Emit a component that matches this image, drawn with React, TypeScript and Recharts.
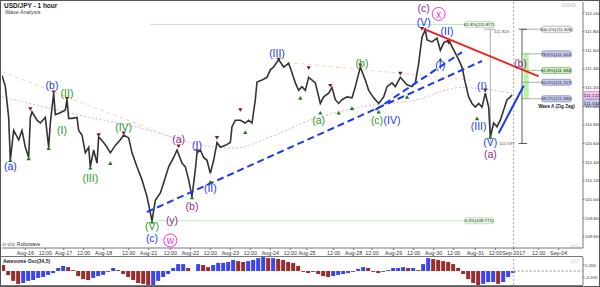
import React from "react";
import {
  ComposedChart, Line, Bar, Cell, Scatter, XAxis, YAxis,
  ReferenceLine, ReferenceArea, ReferenceDot,
} from "recharts";

const FONT = "'Liberation Sans', Arial, sans-serif";

// hour bar index (0 = left edge of the chart) and the price read there
const pricePath: [number, number][] = [
  [0, 111.33], [2, 111.21], [4, 110.88], [5, 110.42], [7, 110.74], [10, 110.64], [12, 110.74], [14, 110.56],
  [16, 110.45], [17, 110.88], [18, 110.94], [21, 110.85], [23, 110.82], [26, 110.88], [28, 110.56], [29, 110.82],
  [31, 111.14], [32, 110.91], [35, 110.93], [38, 110.96], [39, 111.07], [40, 110.87], [42, 110.87], [45, 110.88],
  [46, 110.74], [48, 110.69], [50, 110.5], [52, 110.56], [53, 110.35], [55, 110.53], [57, 110.39], [58, 110.67],
  [61, 110.61], [63, 110.56], [65, 110.5], [68, 110.58], [71, 110.64], [73, 110.69], [76, 110.66], [78, 110.5],
  [81, 110.35], [84, 110.21], [87, 110.03], [90, 109.77], [92, 109.99], [95, 110.07], [97, 110.18], [100, 110.35],
  [103, 110.45], [105, 110.53], [108, 110.39], [110, 110.35], [112, 110.21], [114, 110.03], [116, 110.32], [117, 110.5],
  [119, 110.53], [121, 110.45], [123, 110.42], [125, 110.28], [127, 110.42], [129, 110.61], [131, 110.56], [134, 110.58],
  [137, 110.61], [138, 110.78], [140, 110.85], [143, 110.85], [146, 110.82], [148, 110.85], [150, 110.82], [152, 111.07],
  [153, 111.26], [156, 111.28], [159, 111.31], [161, 111.39], [163, 111.42], [166, 111.5], [169, 111.42], [172, 111.46],
  [174, 111.36], [176, 111.25], [178, 111.17], [180, 111.21], [182, 111.17], [184, 111.31], [186, 111.28], [188, 111.25],
  [191, 111.03], [193, 111.1], [196, 111.14], [198, 111.2], [200, 111.07], [202, 111.03], [204, 111.07], [207, 111.1],
  [210, 111.09], [212, 111.21], [215, 111.42], [218, 111.28], [220, 111.17], [223, 111.09], [226, 111.03], [229, 111.1],
  [231, 111.21], [234, 111.25], [236, 111.21], [239, 111.31], [243, 111.23], [246, 111.21], [248, 111.25], [250, 111.46],
  [252, 111.74], [254, 111.82], [255, 111.71], [258, 111.69], [261, 111.73], [263, 111.6], [265, 111.68], [268, 111.71],
  [270, 111.64], [272, 111.57], [274, 111.5], [276, 111.42], [278, 111.25], [280, 111.1], [282, 111.03], [284, 110.99],
  [286, 111.03], [288, 110.99], [290, 111.14], [292, 110.99], [293, 110.67], [295, 110.82], [297, 110.78], [299, 110.85],
  [301, 110.96], [303, 111.07], [305, 111.1], [306, 111.12],
];

// slow moving average (pink dotted)
const slowMa: [number, number][] = [
  [0, 111.1], [45, 110.91], [95, 110.71], [113, 110.61], [139, 110.55], [161, 110.67],
  [185, 110.85], [215, 110.99], [249, 111.07], [275, 111.2], [306, 111.14],
];

// awesome oscillator, one value every 3 bars starting at bar 1
const aoStart = 1;
const aoStep = 3;
const aoValues = [
  0.2, -0.13, -0.33, -0.43, -0.4, -0.33, -0.3, -0.23, -0.2, -0.13,
  -0.07, 0.1, 0.17, 0.13, 0.03, -0.17, -0.27, -0.3, -0.23, -0.17,
  -0.13, -0.03, 0.1, 0.03, -0.1, -0.2, -0.3, -0.4, -0.43, -0.47,
  -0.47, -0.33, -0.2, -0.1, 0.1, 0.23, 0.23, 0.1, 0, 0.23,
  0.2, 0.13, 0.2, 0.27, 0.27, 0.3, 0.37, 0.33, 0.3, 0.33,
  0.37, 0.43, 0.47, 0.43, 0.43, 0.4, 0.37, 0.3, 0.27, 0.17,
  -0.03, -0.07, -0.03, -0.1, -0.17, -0.2, -0.17, -0.13, -0.1, -0.07,
  -0.03, 0.07, 0.13, 0.1, -0.03, -0.07, -0.03, 0.03, 0.1, 0.1,
  0.13, 0.1, 0.1, 0.03, 0.23, 0.43, 0.4, 0.37, 0.33, 0.3,
  0.23, 0.1, -0.1, -0.27, -0.4, -0.47, -0.43, -0.37, -0.37, -0.43,
  -0.37, -0.2, -0.07,
];

const timeTicks = [14, 26, 37, 49, 61, 76, 88, 101, 113, 125, 137, 149, 161, 173, 183, 199, 211, 222, 235, 247, 259, 271, 284, 296, 307, 322, 334];
const timeLabels = ["Aug-16", "12:00", "Aug-17", "12:00", "Aug-18", "12:00", "Aug-21", "12:00", "Aug-22", "12:00", "Aug-23", "12:00",
  "Aug-24", "12:00", "Aug-25", "12:00", "Aug-28", "12:00", "Aug-29", "12:00", "Aug-30", "12:00", "Aug-31", "12:00", "Sep-2017", "12:00", "Sep-04"];
const priceTicks = [109.6, 109.8, 110.0, 110.2, 110.4, 110.6, 110.8, 111.0, 111.2, 111.4, 111.6, 111.8, 112.0];

// elliott wave labels
const waveLabels = [
  {bar: 5, price: 110.35, text: "(a)", degree: "minuette"},
  {bar: 30, price: 111.22, text: "(b)", degree: "minuette"},
  {bar: 39, price: 111.14, text: "(II)", degree: "subminuette"},
  {bar: 36, price: 110.74, text: "(I)", degree: "subminuette"},
  {bar: 53, price: 110.23, text: "(III)", degree: "subminuette"},
  {bar: 73, price: 110.77, text: "(IV)", degree: "subminuette"},
  {bar: 90, price: 109.71, text: "(V)", degree: "subminuette"},
  {bar: 90, price: 109.58, text: "(c)", degree: "minuette"},
  {bar: 102, price: 109.77, text: "(y)", degree: "minute"},
  {bar: 101, price: 109.56, text: "w", degree: "minor"},
  {bar: 106, price: 110.64, text: "(a)", degree: "minute"},
  {bar: 117, price: 110.58, text: "(I)", degree: "minuette"},
  {bar: 114, price: 109.93, text: "(b)", degree: "minute"},
  {bar: 125, price: 110.12, text: "(II)", degree: "minuette"},
  {bar: 165, price: 111.57, text: "(III)", degree: "minuette"},
  {bar: 190, price: 110.85, text: "(a)", degree: "subminuette"},
  {bar: 216, price: 111.46, text: "(b)", degree: "subminuette"},
  {bar: 225, price: 110.85, text: "(c)", degree: "subminuette"},
  {bar: 234, price: 110.85, text: "(IV)", degree: "minuette"},
  {bar: 253, price: 112.05, text: "(c)", degree: "minute"},
  {bar: 262, price: 111.99, text: "x", degree: "minor"},
  {bar: 253, price: 111.9, text: "(V)", degree: "minuette"},
  {bar: 267, price: 111.8, text: "(II)", degree: "minuette"},
  {bar: 263, price: 111.44, text: "(I)", degree: "minuette"},
  {bar: 288, price: 111.21, text: "(I)", degree: "minuette"},
  {bar: 286, price: 110.78, text: "(III)", degree: "minuette"},
  {bar: 293, price: 110.61, text: "(V)", degree: "minuette"},
  {bar: 293, price: 110.48, text: "(a)", degree: "minute"},
  {bar: 311, price: 111.46, text: "(b)", degree: "minute"},
];

// fractal markers
const fractalLows: [number, number][] = [
  [5, 110.42], [16, 110.44], [28, 110.55], [53, 110.34], [65, 110.39], [90, 109.76], [114, 110.02], [125, 110.19],
  [146, 110.72], [179, 111.09], [191, 110.93], [202, 110.93], [210, 110.98], [226, 110.94], [243, 111.1], [263, 111.5],
  [285, 110.87], [293, 110.67],
];
const fractalHighs: [number, number][] = [
  [17, 110.97], [31, 111.15], [39, 111.08], [58, 110.69], [73, 110.71], [106, 110.57], [117, 110.52], [129, 110.66],
  [143, 110.96], [166, 111.5], [184, 111.41], [197, 111.22], [215, 111.44], [239, 111.35], [252, 111.83], [268, 111.68],
  [290, 111.17],
];

// trend lines [bar, price] -> [bar, price]
const blueDashed = [
  [[87, 109.865], [288, 111.485]],
  [[224, 110.96], [276, 111.58]],
];
const blueSolid = [[298, 110.71], [313, 111.22]];
const redLine = [[253, 111.83], [322, 111.32]];
const orangeDashed = [
  [[0, 111.37], [110, 110.61]],
  [[171, 111.47], [281, 111.28]],
];

// big retracement (from the Aug-21 low)
const bigFib = [{label: "61.8%", price: 111.877, from: 89}, {label: "0.0%", price: 109.771, from: 92}];
const bigFibEnd = 295;
// wave A retracement on the right
const waveAFib = [
  {label: "100.0%", price: 111.826},
  {label: "78.6%", price: 111.562},
  {label: "61.8%", price: 111.384},
  {label: "50.0%", price: 111.257},
  {label: "38.2%", price: 111.08},
];
const waveAHigh = 111.826;
const waveALow = 110.6;
const lastPrice = 111.122;
const askPrice = 111.034;
const currentBar = 307;

const degreeColor: Record<string, string> = {
  subminuette: "#1f9a1f",
  minuette: "#1b38f5",
  minute: "#8b2c8b",
  minor: "#ff2fd0",
};

const X_DOMAIN: [number, number] = [0, 348.6];

const WaveLabel = (props: any) => {
  const {cx, cy, payload} = props;
  const color = degreeColor[payload.degree];
  const circled = payload.degree === "minor";
  return (
    <g>
      {circled && <circle cx={cx} cy={cy} r={6.5} fill="#fff" stroke={color} strokeWidth={1}/>}
      <text x={cx} y={cy} dy={3.6} textAnchor="middle" fontSize={circled ? 10 : 10.5} fill={color} fontFamily={FONT}>
        {payload.text}
      </text>
    </g>
  );
};

const Tri = (up: boolean) => (props: any) => {
  const {cx, cy} = props;
  const d = up
    ? `M${cx - 2.2},${cy + 1.8} L${cx + 2.2},${cy + 1.8} L${cx},${cy - 1.8} Z`
    : `M${cx - 2.2},${cy - 1.8} L${cx + 2.2},${cy - 1.8} L${cx},${cy + 1.8} Z`;
  return <path d={d} fill={up ? "#1d7a1d" : "#7a1d1d"}/>;
};

const FibTag = ({cx, cy, text, tone, alignRight}: any) => {
  const w = 29;
  const h = 6;
  const x = alignRight ? cx - w : cx;
  const fills: Record<string, [string, string]> = {
    green: ["#c9f2c0", "#5aa04a"],
    blue: ["#c9cdf2", "#6670aa"],
    white: ["#ffffff", "#888888"],
    pale: ["#e8fbe8", "#9bd49b"],
  };
  const [fill, stroke] = fills[tone];
  return (
    <g>
      <rect x={x} y={cy - h / 2} width={w} height={h} rx={1.5} fill={fill} stroke={stroke} strokeWidth={0.6}/>
      <text x={x + w / 2} y={cy + 1.7} textAnchor="middle" fontSize={4.4} fill="#222" fontFamily={FONT}>{text}</text>
    </g>
  );
};

const PriceTag = ({cx, cy, text, fill, stroke}: any) => (
  <g>
    <rect x={cx + 1} y={cy - 3.5} width={15.5} height={7} rx={1.5} fill={fill} stroke={stroke} strokeWidth={0.6}/>
    <text x={cx + 8.7} y={cy + 1.7} textAnchor="middle" fontSize={4.4} fill="#222" fontFamily={FONT}>{text}</text>
  </g>
);

const seg = (s: number[][]) => [{x: s[0][0], y: s[0][1]}, {x: s[1][0], y: s[1][1]}] as any;

const axisTick = {fontSize: 4.4, fill: "#333", fontFamily: FONT};

const PriceChart = () => {
  const path = pricePath.map(([bar, price]) => ({bar, price}));
  const ma = slowMa.map(([bar, price]) => ({bar, price}));
  const lows = fractalLows.map(([bar, price]) => ({bar, price}));
  const highs = fractalHighs.map(([bar, price]) => ({bar, price}));
  return (
    <ComposedChart width={600} height={256} margin={{top: 2, right: 0, bottom: 0, left: 2}}>
      <XAxis type="number" dataKey="bar" domain={X_DOMAIN} allowDataOverflow ticks={timeTicks}
             tickFormatter={(v: number) => timeLabels[timeTicks.indexOf(v)] ?? ""}
             interval={0} height={8} tickSize={2} tickMargin={1}
             tick={{fontSize: 5.3, fill: "#333", fontFamily: FONT}} stroke="#777"/>
      <YAxis type="number" orientation="right" domain={[109.479, 112.118]} allowDataOverflow ticks={priceTicks}
             tickFormatter={(v: number) => v.toFixed(3)} width={17} tickSize={1.5} tickMargin={0.5}
             tick={axisTick} stroke="#777" interval={0}/>

      {bigFib.map((f) => (
        <ReferenceLine key={f.label} segment={seg([[f.from, f.price], [bigFibEnd, f.price]])} stroke="#b9efb4" strokeWidth={1}/>
      ))}
      {orangeDashed.map((s, i) => (
        <ReferenceLine key={"o" + i} segment={seg(s)} stroke="#f8d2b4" strokeDasharray="4 3" strokeWidth={1}/>
      ))}
      <ReferenceLine x={currentBar} stroke="#aaa" strokeDasharray="2 2"/>

      <ReferenceArea x1={313} x2={316} y1={waveAFib[4].price} y2={waveAFib[1].price} fill="#b6f2a2" fillOpacity={1} stroke="none"/>
      {waveAFib.map((f) => (
        <ReferenceLine key={f.label} segment={seg([[312, f.price], [324, f.price]])}
                       stroke={f.label === "61.8%" ? "#7cc46c" : "#9a9a9a"} strokeWidth={0.8}/>
      ))}
      <ReferenceLine segment={seg([[293, waveAHigh], [293, 110.62]])} stroke="#999" strokeWidth={0.8}/>
      <ReferenceLine segment={seg([[289, waveAHigh], [296, waveAHigh]])} stroke="#999" strokeWidth={0.8}/>
      <ReferenceLine segment={seg([[312, waveAHigh], [312, waveALow]])} stroke="#333" strokeWidth={0.8}/>
      <ReferenceLine segment={seg([[310, waveAHigh], [315, waveAHigh]])} stroke="#333" strokeWidth={0.8}/>
      <ReferenceLine segment={seg([[310, waveALow], [315, waveALow]])} stroke="#333" strokeWidth={0.8}/>

      <Line data={ma} dataKey="price" type="monotone" stroke="#dcb2e0" strokeDasharray="2 2" strokeWidth={1}
            dot={false} isAnimationActive={false}/>
      <Line data={path} dataKey="price" type="linear" stroke="#333" strokeWidth={1.6} dot={false}
            isAnimationActive={false}/>

      {blueDashed.map((s, i) => (
        <ReferenceLine key={"b" + i} segment={seg(s)} stroke="#1b38f5" strokeDasharray="7 4" strokeWidth={2}/>
      ))}
      <ReferenceLine segment={seg(blueSolid)} stroke="#1b38f5" strokeWidth={2}/>
      <ReferenceLine segment={seg(redLine)} stroke="#f02020" strokeWidth={2}/>

      <Scatter data={lows} dataKey="price" shape={Tri(true)} isAnimationActive={false}/>
      <Scatter data={highs} dataKey="price" shape={Tri(false)} isAnimationActive={false}/>
      <Scatter data={waveLabels} dataKey="price" shape={WaveLabel} isAnimationActive={false}/>

      {bigFib.map((f) => (
        <ReferenceDot key={"t" + f.label} x={bigFibEnd} y={f.price} r={0} ifOverflow="visible"
                      shape={(p: any) => <FibTag cx={p.cx} cy={p.cy} alignRight tone="pale"
                                                  text={`${f.label}(${f.price.toFixed(3)})`}/>}/>
      ))}
      {waveAFib.map((f) => (
        <ReferenceDot key={"w" + f.label} x={324} y={f.price} r={0} ifOverflow="visible"
                      shape={(p: any) => <FibTag cx={p.cx} cy={p.cy}
                                                  tone={f.label === "61.8%" ? "green" : f.label === "100.0%" ? "white" : "blue"}
                                                  text={`${f.label}(${f.price.toFixed(3)})`}/>}/>
      ))}
      <ReferenceDot x={324} y={111.0} r={0} ifOverflow="visible"
                    shape={(p: any) => <text x={p.cx + 14.5} y={p.cy + 1.5} textAnchor="middle" fontSize={4.6}
                                             fontWeight="bold" fill="#222" fontFamily={FONT}>Wave A (Zig Zag)</text>}/>
      <ReferenceDot x={294} y={waveAHigh} r={0} ifOverflow="visible"
                    shape={(p: any) => <text x={p.cx + 2} y={p.cy + 4} fontSize={4.4} fill="#555" fontFamily={FONT}>
                      {waveAHigh.toFixed(3)}</text>}/>
      <ReferenceDot x={297} y={110.6} r={0} ifOverflow="visible"
                    shape={(p: any) => <text x={p.cx + 2} y={p.cy + 1.5} fontSize={4.4} fill="#555" fontFamily={FONT}>
                      110.597</text>}/>

      <ReferenceDot x={X_DOMAIN[1]} y={lastPrice} r={0} ifOverflow="visible"
                    shape={(p: any) => <PriceTag cx={p.cx} cy={p.cy} text={lastPrice.toFixed(3)} fill="#f4c6ee" stroke="#c060b0"/>}/>
      <ReferenceDot x={X_DOMAIN[1]} y={askPrice} r={0} ifOverflow="visible"
                    shape={(p: any) => <PriceTag cx={p.cx} cy={p.cy} text={askPrice.toFixed(3)} fill="#c9cdf4" stroke="#6670c0"/>}/>
    </ComposedChart>
  );
};

const AoChart = () => {
  const data = aoValues.map((v, i) => ({bar: aoStart + i * aoStep, ao: v}));
  return (
    <ComposedChart width={600} height={31} data={data} margin={{top: 1, right: 0, bottom: 2, left: 2}}>
      <XAxis type="number" dataKey="bar" domain={X_DOMAIN} allowDataOverflow hide/>
      <YAxis type="number" orientation="right" domain={[-0.467, 0.467]} allowDataOverflow ticks={[-0.2, 0.2]}
             tickFormatter={(v: number) => v.toFixed(3)} width={17} tickSize={1.5} tickMargin={0.5}
             tick={axisTick} stroke="#777" interval={0}/>
      <ReferenceLine x={currentBar} stroke="#aaa" strokeDasharray="2 2"/>
      <ReferenceLine segment={[{x: currentBar, y: 0}, {x: X_DOMAIN[1], y: 0}]} stroke="#888" strokeDasharray="2 2"/>
      <Bar dataKey="ao" barSize={4} isAnimationActive={false}>
        {data.map((d, i) => (
          <Cell key={i} fill={i > 0 && d.ao >= data[i - 1].ao ? "#3a45ee" : "#9a2c2c"}/>
        ))}
      </Bar>
    </ComposedChart>
  );
};

export default function App() {
  const small = {position: "absolute" as const, fontFamily: FONT, color: "#222", whiteSpace: "nowrap" as const};
  return (
    <div style={{position: "fixed", left: 0, top: 0, width: 600, height: 287, background: "#fff", overflow: "hidden"}}>
      <div style={{position: "absolute", left: 0, top: 0}}><PriceChart/></div>
      <div style={{position: "absolute", left: 0, top: 256}}><AoChart/></div>
      <div style={{position: "absolute", left: 0, top: 0, width: 598, height: 285, border: "1px solid #555", pointerEvents: "none"}}/>
      <div style={{position: "absolute", left: 1, top: 256, width: 582, height: 28, borderTop: "1px solid #777", borderBottom: "1px solid #777"}}/>
      <div style={{...small, left: 4, top: 2, fontSize: 6.5, fontWeight: "bold"}}>USD/JPY - 1 hour</div>
      <div style={{...small, left: 5, top: 9, fontSize: 5.5, color: "#444"}}>Wave Analysis</div>
      <div style={{...small, left: 2, top: 241, fontSize: 5, color: "#333"}}>⊙ ⊙⊙ Robowave</div>
      <div style={{...small, left: 3, top: 258, fontSize: 5, fontWeight: "bold"}}>Awesome Osc(34,5)</div>
      <div style={{...small, left: 561, top: 1, fontSize: 6, color: "#aaa"}}>⊙⊙⊙</div>
      <div style={{...small, left: 570, top: 241, fontSize: 6, color: "#aaa"}}>◇◇</div>
      <div style={{...small, left: 570, top: 257, fontSize: 6, color: "#aaa"}}>◇□</div>
    </div>
  );
}
